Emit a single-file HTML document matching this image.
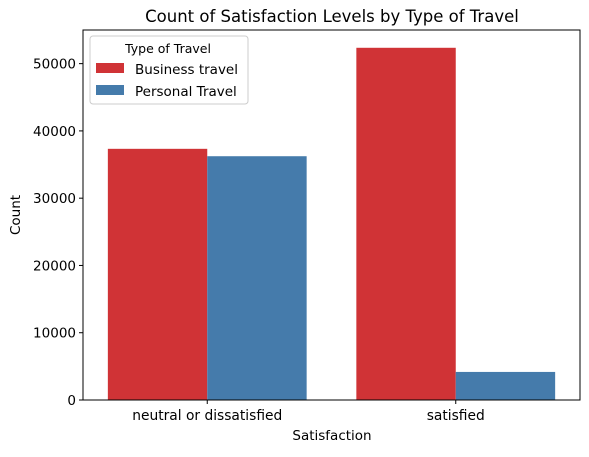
<!DOCTYPE html>
<html><head><meta charset="utf-8"><style>
body{margin:0;background:#fff;font-family:"DejaVu Sans",sans-serif}
</style></head><body>
<svg width="589" height="453" xmlns="http://www.w3.org/2000/svg" font-family="DejaVu Sans, sans-serif">
<text x="332" y="22" text-anchor="middle" font-size="16.5">Count of Satisfaction Levels by Type of Travel</text>
<g id="bars"></g>
<g id="axes"></g>
<text x="332" y="440" text-anchor="middle" font-size="13.5">Satisfaction</text>
<text x="20" y="215" text-anchor="middle" font-size="13.5" transform="rotate(-90 20 215)">Count</text>
<g>
<rect x="90" y="36" width="158" height="68" fill="#fff" stroke="#ccc" rx="3"></rect>
<text x="168" y="53" text-anchor="middle" font-size="12.5">Type of Travel</text>
<rect x="96" y="63" width="28" height="10" fill="#d03336"></rect>
<text x="135" y="74" font-size="13.5">Business travel</text>
<rect x="96" y="85" width="28" height="10" fill="#457bab"></rect>
<text x="135" y="96" font-size="13.5">Personal Travel</text>
</g>
</svg>
<script>
const categories=["neutral or dissatisfied","satisfied"];
const businessValues=[37337,52356];
const personalValues=[36238,4173];
const yTicks=[0,10000,20000,30000,40000,50000];
const L=83,R=580,T=30,B=400,YMAX=55000;
const y=v=>B-(v/YMAX)*(B-T);
const band=(R-L)/categories.length;
const cx=i=>L+band*(i+0.5);
const bw=band*0.4;
const NS="http://www.w3.org/2000/svg";
const mk=(p,t,a)=>{const e=document.createElementNS(NS,t);for(const k in a)e.setAttribute(k,a[k]);p.appendChild(e);return e;};
const bars=document.getElementById('bars'),axes=document.getElementById('axes');
categories.forEach((c,i)=>{
 const b=mk(bars,'rect',{x:cx(i)-bw,y:y(businessValues[i]),width:bw,height:B-y(businessValues[i]),fill:'#d03336'});
 
 
 const p=mk(bars,'rect',{x:cx(i),y:y(personalValues[i]),width:bw,height:B-y(personalValues[i]),fill:'#457bab'});
 
 
 mk(axes,'line',{x1:cx(i),x2:cx(i),y1:B,y2:B+4,stroke:'#000'});
 const t=mk(axes,'text',{x:cx(i),y:B+20,'text-anchor':'middle','font-size':13.8});
 t.textContent=c;
 
 
});
yTicks.forEach(v=>{
 mk(axes,'line',{x1:L-4,x2:L,y1:y(v),y2:y(v),stroke:'#000'});
 const t=mk(axes,'text',{x:L-7,y:y(v)+5,'text-anchor':'end','font-size':13.5});
 t.textContent=v;
 
 
});
const f=mk(axes,'rect',{x:L,y:T,width:R-L,height:B-T,fill:'none',stroke:'#000','stroke-width':1});


</script>
</body></html>
